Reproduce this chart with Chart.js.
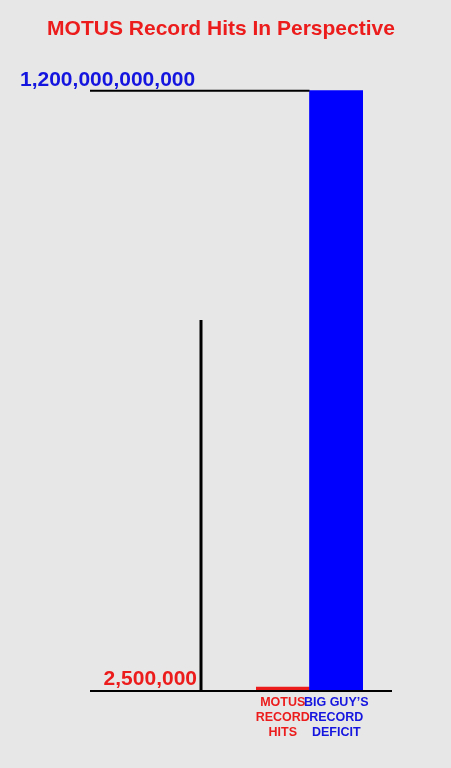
<!DOCTYPE html>
<html>
<head>
<meta charset="utf-8">
<script src="https://cdn.jsdelivr.net/npm/chart.js@4.4.1/dist/chart.umd.min.js"></script>
<style>
  html, body { margin: 0; padding: 0; background: #e7e7e7; }
  canvas { display: block; }
</style>
</head>
<body>
<canvas id="c" width="451" height="768"></canvas>
<script>
const categories = [["MOTUS", "RECORD", "HITS"], ["BIG GUY\u2019S", "RECORD", "DEFICIT"]];
const values = [2500000, 1200000000000];
const barColors = ["#ec1c1c", "#0000ff"];
const textColors = ["#ec1c1c", "#1515e0"];
const valueLabels = ["2,500,000", "1,200,000,000,000"];
const guideValue = 740000000000;

const FONT = "'Liberation Sans', Arial, sans-serif";

const decor = {
  id: 'decor',
  afterDatasetsDraw(chart) {
    const ctx = chart.ctx;
    const y = chart.scales.y;
    const meta = chart.getDatasetMeta(0);
    const blue = meta.data[1];
    const blueLeft = blue.x - blue.width / 2;
    const yTop = y.getPixelForValue(values[1]);
    const yBase = y.getPixelForValue(0);
    const guideX = 201;
    ctx.save();
    ctx.strokeStyle = '#000';
    ctx.lineWidth = 2;
    ctx.beginPath();
    ctx.moveTo(90, yTop + 0.5);
    ctx.lineTo(blueLeft, yTop + 0.5);
    ctx.stroke();
    ctx.beginPath();
    ctx.moveTo(90, yBase + 1);
    ctx.lineTo(392, yBase + 1);
    ctx.stroke();
    ctx.lineWidth = 3;
    ctx.beginPath();
    ctx.moveTo(guideX, y.getPixelForValue(guideValue));
    ctx.lineTo(guideX, yBase + 1);
    ctx.stroke();
    ctx.font = "bold 21px " + FONT;
    ctx.textBaseline = 'alphabetic';
    ctx.fillStyle = textColors[1];
    ctx.textAlign = 'left';
    ctx.fillText(valueLabels[1], 20, yTop - 4.5);
    ctx.fillStyle = textColors[0];
    ctx.textAlign = 'right';
    ctx.fillText(valueLabels[0], guideX - 4, yBase - 5);
    ctx.restore();
  }
};

new Chart(document.getElementById('c'), {
  type: 'bar',
  data: {
    labels: categories,
    datasets: [{
      data: values,
      backgroundColor: barColors,
      borderWidth: 0,
      barPercentage: 1,
      categoryPercentage: 1,
      minBarLength: 3
    }]
  },
  options: {
    responsive: false,
    animation: false,
    devicePixelRatio: 1,
    layout: { padding: { left: 0, right: 9, top: 0, bottom: 0 } },
    plugins: {
      legend: { display: false },
      tooltip: { enabled: false },
      title: {
        display: true,
        text: 'MOTUS Record Hits In Perspective',
        color: '#ec1c1c',
        font: { family: FONT, size: 21, weight: 'bold' },
        padding: { top: 17, bottom: 48 }
      }
    },
    scales: {
      x: {
        grid: { display: false, drawTicks: false },
        border: { display: false },
        ticks: {
          color: (c) => textColors[c.index],
          font: { family: FONT, size: 12.5, weight: 'bold', lineHeight: 1.2 },
          padding: 5,
          maxRotation: 0,
          autoSkip: false
        },
        afterFit: (s) => { s.height = 78; }
      },
      y: {
        min: 0,
        max: values[1],
        grid: { display: false, drawTicks: false },
        border: { display: false },
        ticks: { display: false },
        afterFit: (s) => { s.width = 256; }
      },
      y2: {
        position: 'right',
        grid: { display: false, drawTicks: false },
        border: { display: false },
        ticks: { display: false },
        afterFit: (s) => { s.width = 79; }
      }
    }
  },
  plugins: [decor]
});
</script>
</body>
</html>
